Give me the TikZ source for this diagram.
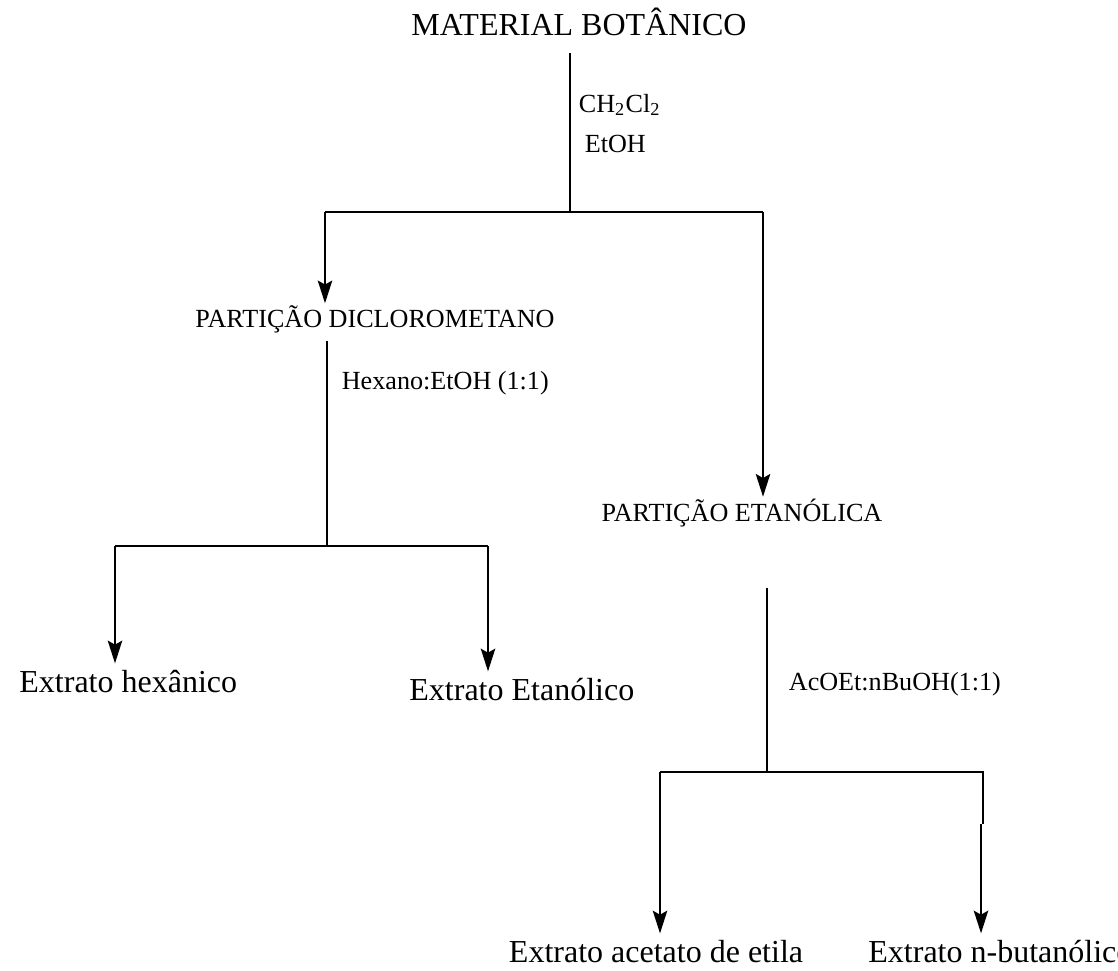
\documentclass[tikz,border=0pt]{standalone}
\usepackage{fontspec}
\setmainfont{Liberation Serif}
\usetikzlibrary{calc, arrows.meta}

\begin{document}
\begin{tikzpicture}[x=0.375pt, y=-0.375pt, line width=0.8pt,
  big/.style={inner sep=2pt, font=\fontsize{12}{14}\selectfont},
  small/.style={inner sep=0.3pt, font=\fontsize{9.8}{12}\selectfont},
  arr/.style={-{Stealth[length=8.5pt, width=5.4pt, inset=1.5pt]}}]
  \useasboundingbox (0,0) rectangle (1118,970);
  % textos
  \node[big, anchor=base] (mat) at (579,36) {MATERIAL BOTÂNICO};
  \node[small, anchor=base west] (sv1) at (577,112) {CH\textsubscript{2}Cl\textsubscript{2}};
  \node[small, anchor=base west] (sv2) at (583,152) {EtOH};
  \node[small, anchor=base] (dcm) at (375,327) {PARTIÇÃO DICLOROMETANO};
  \node[small, anchor=base west] (sv3) at (340,389) {Hexano:EtOH (1:1)};
  \node[big, anchor=base west] (hex) at (13,692) {Extrato hexânico};
  \node[big, anchor=base west] (eta) at (403,700) {Extrato Etanólico};
  \node[small, anchor=base] (etp) at (742,521) {PARTIÇÃO ETANÓLICA};
  \node[small, anchor=base west] (sv4) at (787,690) {AcOEt:nBuOH(1:1)};
  \node[big, anchor=base] (ace) at (656,962) {Extrato acetato de etila};
  \node[big, anchor=base west] (but) at (862,962) {Extrato n-butanólico};
  % primeira divisão
  \coordinate (j0) at (570,212);
  \coordinate (jL) at (325,212);
  \coordinate (jR) at (763,212);
  \draw[shorten <=4pt] (mat.south -| j0) -- (j0);
  \draw (jL) -- (jR);
  \draw[arr] (jL) -- (jL |- dcm.north);
  \draw[arr] (jR) -- (jR |- etp.north);
  % partição diclorometano
  \coordinate (d0) at (327,546);
  \coordinate (dL) at (115,546);
  \coordinate (dR) at (488,546);
  \draw[shorten <=2.5pt] (dcm.south -| d0) -- (d0);
  \draw (dL) -- (dR);
  \draw[arr] (dL) -- (dL |- hex.north);
  \draw[arr] (dR) -- (dR |- eta.north);
  % partição etanólica
  \coordinate (e0) at (767,588);
  \coordinate (e1) at (767,772);
  \coordinate (eL) at (660,772);
  \coordinate (eR) at (983,772);
  \coordinate (eK) at (983,824);
  \coordinate (eJ) at (981,824);
  \draw (e0) -- (e1);
  \draw (eL) -- (eR) -- (eK);
  \draw[arr] (eL) -- (eL |- ace.north);
  \draw[arr] (eJ) -- (eJ |- but.north);
\end{tikzpicture}
\end{document}
